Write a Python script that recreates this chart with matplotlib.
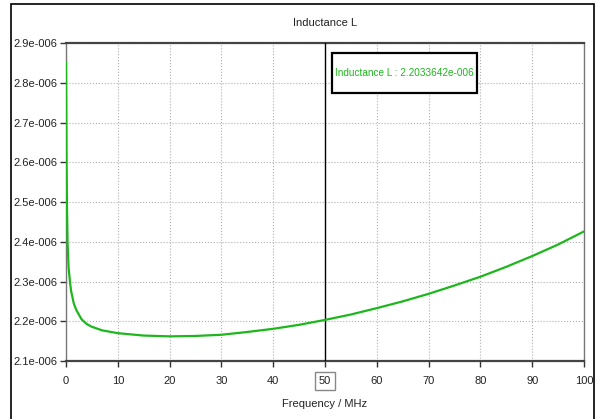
import numpy as np
import matplotlib.pyplot as plt
from matplotlib.patches import Rectangle

# frequency / MHz and inductance / H
freq = [0.0, 0.05, 0.1, 0.2, 0.3, 0.5, 0.8, 1.0, 1.5, 2.0, 3.0, 4.0, 5.0, 7.0,
        10.0, 15.0, 20.0, 25.0, 30.0, 35.0, 40.0, 45.0, 50.0, 55.0, 60.0, 65.0,
        70.0, 75.0, 80.0, 85.0, 90.0, 95.0, 100.0]
ind = [2.852, 2.74, 2.62, 2.48, 2.40, 2.335, 2.295, 2.275, 2.245, 2.228, 2.205,
       2.193, 2.186, 2.177, 2.170, 2.164, 2.162, 2.163, 2.166, 2.173, 2.181,
       2.191, 2.2033642, 2.217, 2.233, 2.250, 2.269, 2.290, 2.312, 2.337,
       2.364, 2.393, 2.426]
ind = [v * 1e-6 for v in ind]

xticks = [0, 10, 20, 30, 40, 50, 60, 70, 80, 90, 100]
yticks = [2.1e-6, 2.2e-6, 2.3e-6, 2.4e-6, 2.5e-6, 2.6e-6, 2.7e-6, 2.8e-6, 2.9e-6]
ytick_labels = ['2.1e-006', '2.2e-006', '2.3e-006', '2.4e-006', '2.5e-006',
                '2.6e-006', '2.7e-006', '2.8e-006', '2.9e-006']
marker_f = 50
marker_text = 'Inductance L : 2.2033642e-006'

green = '#1db71d'

plt.rcParams['font.family'] = ['Liberation Sans', 'DejaVu Sans']
fs = 8

fig = plt.figure(figsize=(5.97, 4.19), dpi=100)
ax = fig.add_axes([66 / 597, 1 - 361 / 419, (584 - 66) / 597, (361 - 43) / 419])

ax.plot(freq, ind, color=green, lw=1.6, zorder=3)
ax.axvline(marker_f, color='black', lw=1.0, zorder=2.6)

ax.set_xlim(0, 100)
ax.set_ylim(2.1e-6, 2.9e-6)
ax.set_xticks(xticks)
ax.set_yticks(yticks)
ax.set_yticklabels(ytick_labels)
ax.tick_params(labelsize=fs, length=4, width=1, color='#333333', labelcolor='#222222')
ax.tick_params(axis='x', pad=7)
ax.tick_params(axis='y', pad=2)
ax.grid(True, color='#b0b0b0', ls=':', lw=0.8)

for s in ['top', 'bottom']:
    ax.spines[s].set_color('#444444')
    ax.spines[s].set_linewidth(1.6)
for s in ['left', 'right']:
    ax.spines[s].set_color('#777777')
    ax.spines[s].set_linewidth(1.0)

lab50 = ax.get_xticklabels()[xticks.index(marker_f)]
lab50.set_bbox(dict(facecolor='white', edgecolor='#888888', boxstyle='square,pad=0.35', lw=1))

ax.set_title('Inductance L', fontsize=fs, pad=12, color='#222222')
ax.set_xlabel('Frequency / MHz', fontsize=fs, labelpad=9, color='#222222')

ax.add_patch(Rectangle((0.5135, 0.8428), 0.2799, 0.1258, transform=ax.transAxes,
                       facecolor='white', edgecolor='black', lw=1.6, zorder=4))
ax.text(0.5185, 0.906, marker_text, transform=ax.transAxes, fontsize=7.2,
        color=green, va='center', ha='left', zorder=5)

# outer frame of the window
fig.patches.append(Rectangle((11 / 597, -0.05), (594 - 11) / 597, 1 - 4 / 419 + 0.05,
                             transform=fig.transFigure, fill=False,
                             edgecolor='black', lw=1.2))

fig.savefig('out.png', dpi=100)
